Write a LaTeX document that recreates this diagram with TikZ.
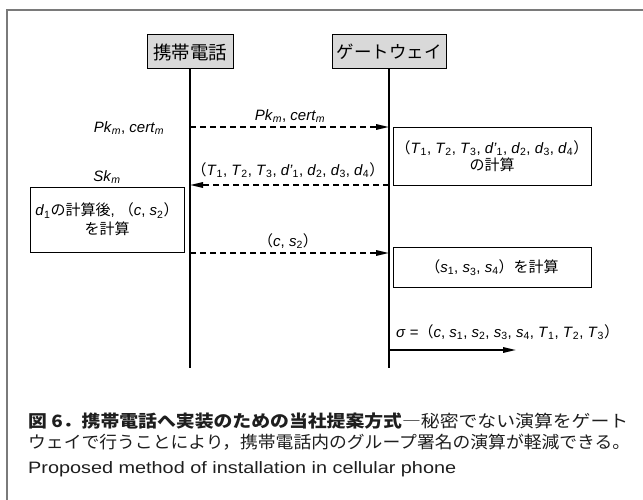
\documentclass[tikz,border=0pt]{standalone}
\usepackage{graphicx}
\usepackage{fontspec}
\setmainfont{Liberation Sans}
\newfontfamily\cjk{Noto Sans CJK JP}
\usetikzlibrary{arrows.meta}
\newcommand{\sbs}[1]{\textsubscript{\upshape #1}}
\newcommand{\sbi}[1]{\textsubscript{\itshape #1}}
\newcommand{\jp}[1]{{\cjk #1}}
\definecolor{boxgray}{HTML}{D9D9D9}
\definecolor{framegray}{HTML}{7A7A7A}
\definecolor{captxt}{HTML}{1E1E1E}
\tikzset{
  actor/.style={draw=black, line width=1pt, fill=boxgray, minimum height=34pt, inner sep=0pt, font=\fontsize{17.5}{19}\selectfont\cjk},
  procbox/.style={draw=black, line width=0.9pt, fill=white, inner sep=0pt, align=center},
  lbl/.style={inner sep=0pt, font=\fontsize{15}{17}\selectfont},
  life/.style={line width=1.4pt},
  msg/.style={line width=1.6pt, dash pattern=on 6pt off 4pt, -{Triangle[length=13pt,width=5.5pt]}},
  result/.style={line width=1.6pt, -{Triangle[length=13pt,width=5.5pt]}},
  captext/.style={anchor=west, inner sep=0pt, text=captxt}
}
\begin{document}
\begin{tikzpicture}[x=1pt,y=-1pt]
\useasboundingbox (0,0) rectangle (643,500);
\draw[framegray, line width=2pt] (7,500) -- (7,10) -- (643,10);

% actors
\node[actor, minimum width=86pt, font=\fontsize{18.5}{20}\selectfont\cjk] (phone) at (190,52) {携帯電話};
\node[actor, minimum width=114pt] (gw) at (389,52) {ゲートウェイ};
\coordinate (pend) at (190,368);
\coordinate (gend) at (389,368);
\draw[life] (phone.south) -- (pend);
\draw[life] (gw.south) -- (gend);

% message points
\coordinate (p1) at (190,127);
\coordinate (g1) at (389,127);
\coordinate (p2) at (190,185);
\coordinate (g2) at (389,185);
\coordinate (p3) at (190,253);
\coordinate (g3) at (389,253);
\coordinate (g4) at (389,350);
\coordinate (o4) at (516,350);

% boxes
\node[procbox, minimum width=198pt, minimum height=58pt, font=\fontsize{15}{17.5}\selectfont] (r1) at (492,156)
  {\jp{（}\textit{T}\sbs{1}, \textit{T}\sbs{2}, \textit{T}\sbs{3}, \textit{d'}\sbs{1}, \textit{d}\sbs{2}, \textit{d}\sbs{3}, \textit{d}\sbs{4}\jp{）}\\\jp{の計算}};
\node[procbox, minimum width=154pt, minimum height=65pt, font=\fontsize{15}{19}\selectfont] (l1) at (107,219.5)
  {\textit{d}\sbs{1}\jp{の計算後}, \jp{（}\textit{c}, \textit{s}\sbs{2}\jp{）}\\\jp{を計算}};
\node[procbox, minimum width=198pt, minimum height=40pt, font=\fontsize{15}{17}\selectfont] (r2) at (492,267.5)
  {\jp{（}\textit{s}\sbs{1}, \textit{s}\sbs{3}, \textit{s}\sbs{4}\jp{）を計算}};

% messages
\draw[msg] (p1) -- (g1);
\draw[msg] (g2) -- (p2);
\draw[msg] (p3) -- (g3);
\draw[result] (g4) -- (o4);

% labels
\node[lbl] (m1) at (290,116) {\textit{Pk}\sbi{m}, \textit{cert}\sbi{m}};
\node[lbl] (k1) at (129,128) {\textit{Pk}\sbi{m}, \textit{cert}\sbi{m}};
\node[lbl] (m2) at (288,170) {\jp{（}\textit{T}\sbs{1}, \textit{T}\sbs{2}, \textit{T}\sbs{3}, \textit{d'}\sbs{1}, \textit{d}\sbs{2}, \textit{d}\sbs{3}, \textit{d}\sbs{4}\jp{）}};
\node[lbl] (sk) at (107,177) {\textit{Sk}\sbi{m}};
\node[lbl] (m3) at (288,241) {\jp{（}\textit{c}, \textit{s}\sbs{2}\jp{）}};
\node[lbl, anchor=west] (sig) at (396,332) {\textit{σ} =\jp{（}\textit{c}, \textit{s}\sbs{1}, \textit{s}\sbs{2}, \textit{s}\sbs{3}, \textit{s}\sbs{4}, \textit{T}\sbs{1}, \textit{T}\sbs{2}, \textit{T}\sbs{3}\jp{）}};

% caption
\node[captext] (c1) at (28,421)
  {\resizebox{600pt}{\height}{\fontsize{17}{19}\selectfont\cjk{\bfseries 図 6．携帯電話へ実装のための当社提案方式}―秘密でない演算をゲート}};
\node[captext] (c2) at (28,442)
  {\resizebox{602pt}{\height}{\fontsize{17}{19}\selectfont\cjk ウェイで行うことにより，携帯電話内のグループ署名の演算が軽減できる。}};
\node[captext] (c3) at (28,469)
  {\resizebox{428pt}{\height}{\fontsize{16.5}{19}\selectfont Proposed method of installation in cellular phone}};
\end{tikzpicture}
\end{document}
